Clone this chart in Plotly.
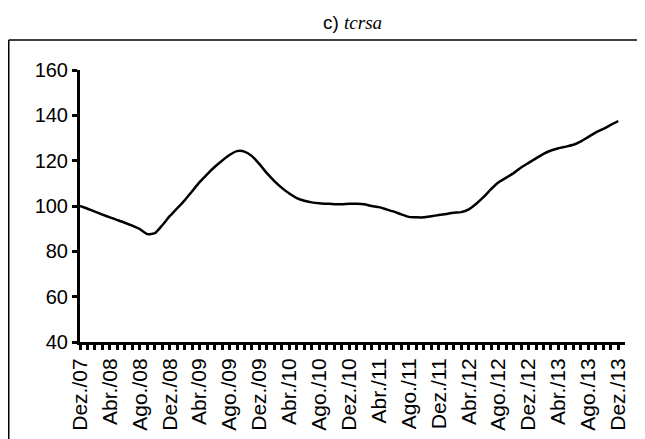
import plotly.graph_objects as go

months = ["Dez.", "Jan.", "Fev.", "Mar.", "Abr.", "Mai.", "Jun.", "Jul.", "Ago.", "Set.", "Out.", "Nov."]
# Monthly index values, Dez./07 .. Dez./13
tcrsa = [100.0, 98.8, 97.5, 96.2, 95.0, 93.8, 92.6, 91.3, 89.8, 87.6,
         88.0, 91.5, 95.5, 99.0, 102.5, 106.5, 110.5, 114.0, 117.2, 120.0,
         122.5, 124.2, 124.0, 122.0, 118.5, 114.5, 111.0, 108.0, 105.5, 103.5,
         102.3, 101.6, 101.2, 101.0, 100.8, 100.8, 101.0, 101.0, 100.8, 100.0,
         99.5, 98.5, 97.5, 96.3, 95.2, 95.0, 95.0, 95.5, 96.0, 96.5,
         97.0, 97.3, 98.5, 101.0, 104.0, 107.5, 110.5, 112.5, 114.5, 117.0,
         119.0, 121.0, 123.0, 124.5, 125.5, 126.2, 127.0, 128.5, 130.5, 132.5,
         134.0, 135.8, 137.5]

labels = []
for i in range(len(tcrsa)):
    m = months[i % 12]
    yr = 7 + (i + 11) // 12
    labels.append(f"{m}/{yr:02d}")

x = list(range(len(tcrsa)))
ticktext = [labels[i] if i % 4 == 0 else "" for i in x]
yticks = [40, 60, 80, 100, 120, 140, 160]

# page has an 8px body margin; figure coords = screen coords - 8
OFF = 8
W, H = 645 - OFF, 439 - OFF
L, T = 80 - OFF, 70 - OFF
R = W - (625 - OFF)
B = H - (342 - OFF)
pw, ph = W - L - R, H - T - B

def px(xs):
    return (xs - OFF - L) / pw

def py(ys):
    return (H - B - (ys - OFF)) / ph

fig = go.Figure()
fig.add_trace(go.Scatter(x=x, y=tcrsa, mode="lines",
                         line=dict(color="black", width=2.5, shape="spline", smoothing=0.6),
                         hoverinfo="skip", showlegend=False))

fig.update_layout(
    width=W, height=H,
    margin=dict(l=L, r=R, t=T, b=B, autoexpand=False),
    paper_bgcolor="white", plot_bgcolor="white",
    font=dict(family="Liberation Sans, Arial, sans-serif", color="black", size=20),
    title=dict(text="c) <i><span style='font-family:Liberation Serif, Times New Roman, serif'>tcrsa</span></i>",
               x=0.5, xanchor="center", xref="paper", y=1 - (22 - OFF) / H, yanchor="middle",
               font=dict(size=19, color="black")),
    xaxis=dict(range=[0, 72.9], tickmode="array", tickvals=x, ticktext=ticktext,
               tickangle=-90, ticks="outside", ticklen=5, tickwidth=2.5, tickcolor="black",
               showline=True, linecolor="black", linewidth=3, showgrid=False,
               zeroline=False, automargin=False, tickfont=dict(size=21)),
    yaxis=dict(range=[40, 160], tickmode="array", tickvals=yticks,
               ticks="outside", ticklen=5, tickwidth=2.5, tickcolor="black",
               showline=True, linecolor="black", linewidth=3, showgrid=False,
               zeroline=False, automargin=False, tickfont=dict(size=20)),
    shapes=[
        dict(type="line", xref="paper", yref="paper", x0=px(8.75), x1=px(660), y0=py(40), y1=py(40),
             line=dict(color="black", width=1.5)),
        dict(type="line", xref="paper", yref="paper", x0=px(8.75), x1=px(8.75), y0=py(40), y1=py(460),
             line=dict(color="black", width=1.5)),
    ],
)
fig.write_html("out.html")
